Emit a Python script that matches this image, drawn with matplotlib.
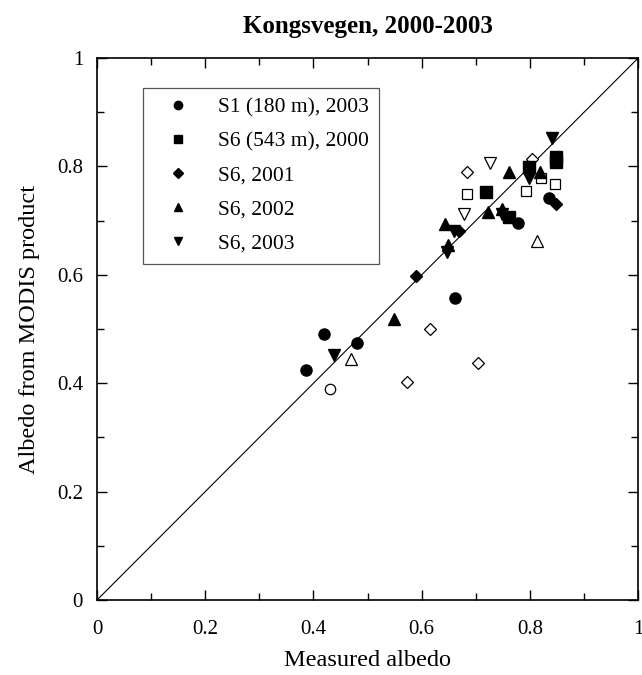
import matplotlib
matplotlib.use("Agg")
import matplotlib.pyplot as plt
from matplotlib.ticker import MultipleLocator

plt.rcParams['font.family'] = ['Liberation Serif', 'DejaVu Serif']

# filled markers (legend series)
s1_2003_x = [0.387, 0.420, 0.481, 0.662, 0.778, 0.835]
s1_2003_y = [0.424, 0.491, 0.474, 0.558, 0.696, 0.742]
s6_2000_x = [0.718, 0.762, 0.798, 0.848, 0.848]
s6_2000_y = [0.752, 0.706, 0.799, 0.818, 0.808]
s6_2001_x = [0.589, 0.669, 0.849]
s6_2001_y = [0.597, 0.681, 0.730]
s6_2002_x = [0.549, 0.643, 0.648, 0.723, 0.749, 0.761, 0.818]
s6_2002_y = [0.519, 0.694, 0.655, 0.716, 0.721, 0.790, 0.790]
s6_2003_x = [0.438, 0.646, 0.660, 0.749, 0.798, 0.841]
s6_2003_y = [0.452, 0.642, 0.680, 0.713, 0.778, 0.852]

# open markers (no legend entry)
o_circ_x = [0.431]
o_circ_y = [0.389]
o_sq_x = [0.683, 0.793, 0.820, 0.846]
o_sq_y = [0.750, 0.754, 0.778, 0.767]
o_dia_x = [0.683, 0.804, 0.615, 0.573, 0.704]
o_dia_y = [0.789, 0.813, 0.500, 0.402, 0.438]
o_up_x = [0.469, 0.814]
o_up_y = [0.445, 0.663]
o_dn_x = [0.727, 0.679]
o_dn_y = [0.807, 0.712]

fig = plt.figure(figsize=(6.42, 6.75), dpi=100)
ax = fig.add_axes([0.151, 0.111, 0.843, 0.803])

ax.plot([0, 1], [0, 1], color='black', lw=0.8, zorder=1)

filled = [
    (s1_2003_x, s1_2003_y, 'o', 'S1 (180 m), 2003', 8),
    (s6_2000_x, s6_2000_y, 's', 'S6 (543 m), 2000', 8),
    (s6_2001_x, s6_2001_y, 'D', 'S6, 2001', 6.5),
    (s6_2002_x, s6_2002_y, '^', 'S6, 2002', 8.5),
    (s6_2003_x, s6_2003_y, 'v', 'S6, 2003', 8.5),
]
for x, y, m, lab, ms in filled:
    ax.plot(x, y, m, color='black', ms=ms, ls='none', label=lab, zorder=3)

opened = [
    (o_circ_x, o_circ_y, 'o', 7.5),
    (o_sq_x, o_sq_y, 's', 7.5),
    (o_dia_x, o_dia_y, 'D', 6),
    (o_up_x, o_up_y, '^', 8),
    (o_dn_x, o_dn_y, 'v', 8),
]
for x, y, m, ms in opened:
    ax.plot(x, y, m, mfc='white', mec='black', mew=0.9, ms=ms, ls='none', zorder=2)

ax.set_xlim(0, 1)
ax.set_ylim(0, 1)
ax.xaxis.set_major_locator(MultipleLocator(0.2))
ax.yaxis.set_major_locator(MultipleLocator(0.2))
ax.xaxis.set_minor_locator(MultipleLocator(0.1))
ax.yaxis.set_minor_locator(MultipleLocator(0.1))
ax.tick_params(which='both', direction='in', top=True, right=True, labelsize=15, width=1)
ax.tick_params(which='major', length=7)
ax.tick_params(which='minor', length=5)
ax.tick_params(axis='x', which='major', pad=14)
ax.tick_params(axis='y', which='major', pad=10)
ax.xaxis.set_major_formatter(plt.FuncFormatter(lambda v, p: f"{v:g}"))
ax.yaxis.set_major_formatter(plt.FuncFormatter(lambda v, p: f"{v:g}"))
for sp in ax.spines.values():
    sp.set_linewidth(1.2)

ax.set_xlabel("Measured albedo", fontsize=17.5, labelpad=8)
ax.set_ylabel("Albedo from MODIS product", fontsize=17.5, labelpad=12)
ax.set_title("Kongsvegen, 2000-2003", fontsize=18, fontweight='bold', pad=18)

leg = ax.legend(loc='upper left', bbox_to_anchor=(0.085, 0.945), borderaxespad=0,
                fontsize=15.5, markerscale=0.75, handlelength=2.4, handletextpad=0.65,
                borderpad=0.45, labelspacing=0.65, fancybox=False,
                edgecolor='#555555', framealpha=1)
leg.get_frame().set_linewidth(0.9)

fig.savefig("out.png", dpi=100)
